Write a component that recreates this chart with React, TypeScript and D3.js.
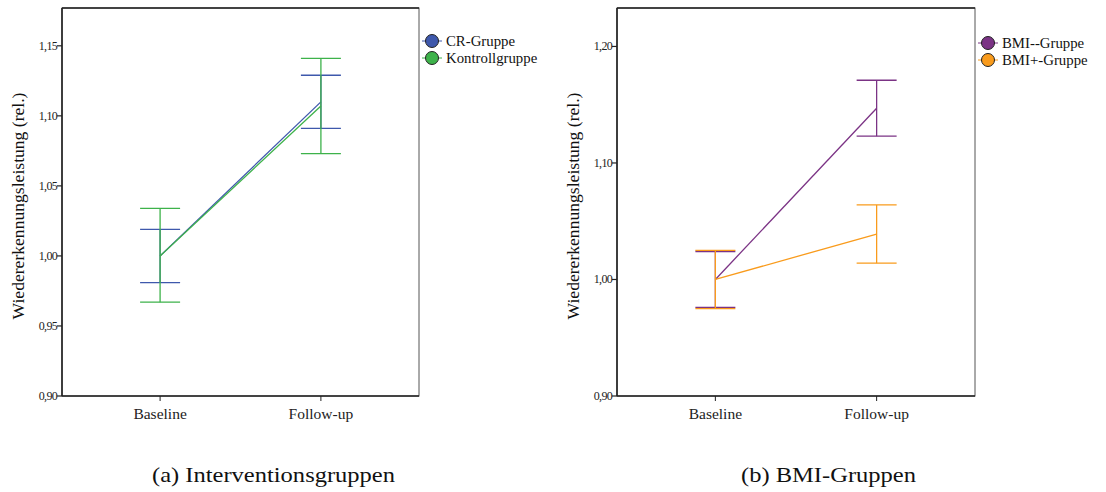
import * as d3 from 'd3'

const TIMEPOINTS = ['Baseline', 'Follow-up']

// (a) Interventionsgruppen
const CR_MEAN = [1.0, 1.11]
const CR_LOW = [0.981, 1.091]
const CR_HIGH = [1.019, 1.129]
const KG_MEAN = [1.0, 1.107]
const KG_LOW = [0.967, 1.073]
const KG_HIGH = [1.034, 1.141]
const TICKS_A = [0.9, 0.95, 1.0, 1.05, 1.1, 1.15]

// (b) BMI-Gruppen
const BMIM_MEAN = [1.0, 1.147]
const BMIM_LOW = [0.976, 1.123]
const BMIM_HIGH = [1.024, 1.171]
const BMIP_MEAN = [1.0, 1.039]
const BMIP_LOW = [0.975, 1.014]
const BMIP_HIGH = [1.025, 1.064]
const TICKS_B = [0.9, 1.0, 1.1, 1.2]

const W = 1106
const H = 492
const TOP = 8
const BOTTOM = 396
const SERIF = 'Liberation Serif, Tinos, DejaVu Serif, serif'
const fmt = (v: number) => d3.format('.2f')(v).replace('.', ',')

type Series = { name: string; color: string; mean: number[]; low: number[]; high: number[] }

function Panel({ x0, x1, yMax, ticks, series, legendY, caption, captionW, captionX }: {
  x0: number; x1: number; yMax: number; ticks: number[]; series: Series[]
  legendY: number; caption: string; captionW: number; captionX: number
}) {
  const y = d3.scaleLinear().domain([0.9, yMax]).range([BOTTOM, TOP])
  const x = d3.scalePoint<string>().domain(TIMEPOINTS).range([x0, x1]).padding(0.61)
  const line = d3.line<number>().x((_, i) => x(TIMEPOINTS[i])!).y(d => y(d))
  const cap = 20
  const mid = (TOP + BOTTOM) / 2
  return (
    <g>
      <rect x={x0} y={TOP} width={x1 - x0} height={BOTTOM - TOP} fill="none" stroke="#555" strokeWidth={1} />
      <line x1={x0} x2={x0} y1={TOP} y2={BOTTOM} stroke="#222" strokeWidth={1.6} />
      <line x1={x0} x2={x1} y1={BOTTOM} y2={BOTTOM} stroke="#222" strokeWidth={1.6} />
      <line x1={x0} x2={x1} y1={TOP} y2={TOP} stroke="#222" strokeWidth={1.4} />
      {ticks.map(t => (
        <g key={t}>
          <line x1={x0 - 5} x2={x0} y1={y(t)} y2={y(t)} stroke="#222" strokeWidth={1.2} />
          <text x={x0 - 5} y={y(t) + 4} textAnchor="end" fontSize={12} fontFamily={SERIF} fill="#222" letterSpacing={-0.7}>{fmt(t)}</text>
        </g>
      ))}
      {TIMEPOINTS.map(c => (
        <g key={c}>
          <line x1={x(c)} x2={x(c)} y1={BOTTOM} y2={BOTTOM + 5} stroke="#222" strokeWidth={1} />
          <text x={x(c)} y={418.5} textAnchor="middle" fontSize={15.5} fontFamily={SERIF} fill="#222">{c}</text>
        </g>
      ))}
      <text transform={`translate(${x0 - 38},${mid + 4}) rotate(-90)`} textAnchor="middle" fontSize={17.6} fontFamily={SERIF} fill="#111">
        Wiedererkennungsleistung (rel.)
      </text>
      {series.map(s => (
        <g key={s.name} stroke={s.color} strokeWidth={1.3} fill="none">
          {TIMEPOINTS.map((c, i) => (
            <g key={c}>
              <line x1={x(c)} x2={x(c)} y1={y(s.low[i])} y2={y(s.high[i])} />
              <line x1={x(c)! - cap} x2={x(c)! + cap} y1={y(s.low[i])} y2={y(s.low[i])} />
              <line x1={x(c)! - cap} x2={x(c)! + cap} y1={y(s.high[i])} y2={y(s.high[i])} />
            </g>
          ))}
          <path d={line(s.mean)!} />
        </g>
      ))}
      {series.map((s, i) => {
        const cx = x1 + 13
        const cy = legendY + i * 17
        return (
          <g key={s.name}>
            <line x1={cx - 10} x2={cx + 10} y1={cy} y2={cy} stroke={s.color} strokeWidth={1} />
            <circle cx={cx} cy={cy} r={6.5} fill={s.color} stroke="#222" strokeWidth={1} />
            <text x={cx + 14} y={cy + 5} fontSize={14.8} fontFamily={SERIF} fill="#111">{s.name}</text>
          </g>
        )
      })}
      <text x={captionX} y={482} textAnchor="middle" fontSize={21} fontFamily={SERIF} fill="#111"
        textLength={captionW} lengthAdjust="spacingAndGlyphs">{caption}</text>
    </g>
  )
}

export default function App() {
  const seriesA: Series[] = [
    { name: 'CR-Gruppe', color: '#3E58AC', mean: CR_MEAN, low: CR_LOW, high: CR_HIGH },
    { name: 'Kontrollgruppe', color: '#3DB24A', mean: KG_MEAN, low: KG_LOW, high: KG_HIGH },
  ]
  const seriesB: Series[] = [
    { name: 'BMI--Gruppe', color: '#7B3385', mean: BMIM_MEAN, low: BMIM_LOW, high: BMIM_HIGH },
    { name: 'BMI+-Gruppe', color: '#F99B1C', mean: BMIP_MEAN, low: BMIP_LOW, high: BMIP_HIGH },
  ]
  return (
    <svg width={W} height={H} style={{ position: 'absolute', left: 0, top: 0, background: '#fff' }}>
      <rect width={W} height={H} fill="#fff" />
      <Panel x0={62} x1={419} yMax={1.177} ticks={TICKS_A} series={seriesA} legendY={41}
        caption="(a) Interventionsgruppen" captionW={243} captionX={273.5} />
      <Panel x0={617} x1={975} yMax={1.233} ticks={TICKS_B} series={seriesB} legendY={43}
        caption="(b) BMI-Gruppen" captionW={175} captionX={828.5} />
    </svg>
  )
}
